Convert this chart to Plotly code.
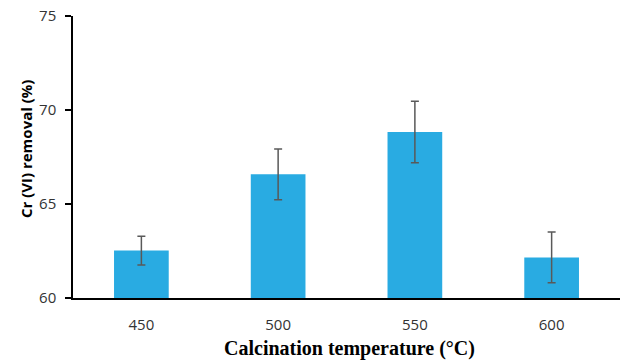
import plotly.graph_objects as go

categories = ["450", "500", "550", "600"]
removal = [62.52, 66.58, 68.83, 62.16]
errors = [0.77, 1.35, 1.63, 1.35]
y_ticks = [60, 65, 70, 75]

fig = go.Figure()
fig.add_trace(go.Bar(
    x=categories, y=removal,
    marker=dict(color="#29ABE2", line=dict(width=0)),
    error_y=dict(type="data", array=errors, visible=True,
                 color="#595959", thickness=1.5, width=4),
))

tick_font = dict(family="Open Sans, sans-serif", size=15, color="#333")

fig.update_layout(
    width=627, height=360,
    margin=dict(l=73, r=7, t=16, b=62),
    paper_bgcolor="white", plot_bgcolor="white",
    bargap=0.6,
    showlegend=False,
    font=tick_font,
    annotations=[
        dict(text="<b>Calcination temperature (°C)</b>", xref="paper", yref="paper",
             x=0.505, y=0, yshift=-50, xanchor="center", yanchor="middle",
             showarrow=False,
             font=dict(family="Liberation Serif, Times New Roman, serif", size=20, color="black")),
        dict(text="<b>Cr (VI) removal (%)</b>", xref="paper", yref="paper",
             x=0, xshift=-47, y=0.528, xanchor="center", yanchor="middle",
             textangle=-90, showarrow=False,
             font=dict(family="Open Sans, sans-serif", size=15, color="black")),
    ],
)
fig.update_xaxes(
    type="category",
    showline=True, linecolor="black", linewidth=1.5,
    ticks="", ticklabelstandoff=12,
    tickfont=tick_font,
    automargin=False,
)
fig.update_yaxes(
    range=[60, 75], tickvals=y_ticks,
    showgrid=False, zeroline=False,
    showline=True, linecolor="black", linewidth=1.5,
    ticks="outside", ticklen=6, tickcolor="black", tickwidth=1.5,
    ticklabelstandoff=6, ticklabeloverflow="allow",
    tickfont=tick_font,
    automargin=False,
)

fig.write_html("out.html", config={"displayModeBar": False},
               post_script="document.body.style.margin='0px';")
